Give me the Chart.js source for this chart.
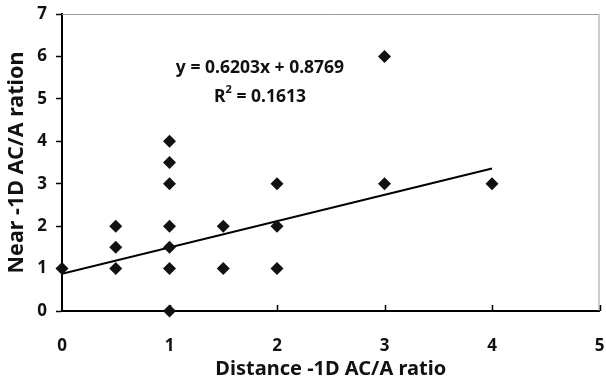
<!DOCTYPE html>
<html>
<head>
<meta charset="utf-8">
<script src="https://cdn.jsdelivr.net/npm/chart.js@4.4.0/dist/chart.umd.min.js"></script>
<style>
  html, body { margin: 0; padding: 0; background: #fff; }
  #wrap { width: 606px; height: 383px; }
</style>
</head>
<body>
<div id="wrap"><canvas id="scatter"></canvas></div>
<script>
// ---- data ----
var distX = [0, 0.5, 0.5, 0.5, 1, 1, 1, 1, 1, 1, 1, 1.5, 1.5, 2, 2, 2, 3, 3, 4];
var nearY = [1, 1, 1.5, 2, 0, 1, 1.5, 2, 3, 3.5, 4, 1, 2, 1, 2, 3, 3, 6, 3];
var trendX = [0, 4];
var trendY = [0.8769, 3.3581];
var eqText = "y = 0.6203x + 0.8769";
var r2Text = " = 0.1613";
var xTicks = [0, 1, 2, 3, 4, 5];
var yTicks = [0, 1, 2, 3, 4, 5, 6, 7];

var fontFam = "'Noto Sans', 'DejaVu Sans', sans-serif";

function toPoints(xs, ys){
    let pts = [];
    for(let i = 0; i < xs.length; i++)
        pts.push({x: xs[i], y: ys[i]});
    return pts;
}

// frame + inward x ticks + equation text
var extras = {
    id: 'extras',
    beforeDatasetsDraw: function(chart){
        let ctx = chart.ctx;
        let a = chart.chartArea;
        ctx.save();
        ctx.strokeStyle = '#9a9a9a';
        ctx.lineWidth = 1;
        ctx.beginPath();
        ctx.moveTo(a.left, a.top + 0.5);
        ctx.lineTo(a.right - 0.5, a.top + 0.5);
        ctx.lineTo(a.right - 0.5, a.bottom);
        ctx.stroke();

        let xs = chart.scales.x;
        ctx.strokeStyle = '#000';
        ctx.lineWidth = 1.5;
        xTicks.forEach(function(v){
            if(v === 0) return;
            let px = Math.round(xs.getPixelForValue(v)) + 0.5;
            ctx.beginPath();
            ctx.moveTo(px, a.bottom);
            ctx.lineTo(px, a.bottom - 6);
            ctx.stroke();
        });
        ctx.restore();
    },
    afterDraw: function(chart){
        let ctx = chart.ctx;
        let a = chart.chartArea;
        let cx = a.left + 198;
        ctx.save();
        ctx.fillStyle = '#111';
        ctx.font = "bold 17.5px " + fontFam;
        ctx.textBaseline = 'middle';
        ctx.textAlign = 'center';
        ctx.fillText(eqText, cx, a.top + 54);

        let wR = ctx.measureText("R").width;
        let wRest = ctx.measureText(r2Text).width;
        ctx.font = "bold 11px " + fontFam;
        let w2 = ctx.measureText("2").width;
        let total = wR + w2 + wRest;
        let x0 = cx - total / 2;
        let y0 = a.top + 83;
        ctx.textAlign = 'left';
        ctx.font = "bold 17.5px " + fontFam;
        ctx.fillText("R", x0, y0);
        ctx.font = "bold 11px " + fontFam;
        ctx.fillText("2", x0 + wR, y0 - 7);
        ctx.font = "bold 17.5px " + fontFam;
        ctx.fillText(r2Text, x0 + wR + w2, y0);
        ctx.restore();
    }
};

var chart = new Chart(document.getElementById('scatter'),
{
    type: 'scatter',
    data : {
        datasets : [
            {
                label: "Near vs distance",
                data : toPoints(distX, nearY),
                pointStyle: 'rectRot',
                pointRadius: 6.5,
                pointHoverRadius: 6.5,
                backgroundColor: '#111',
                borderColor: '#111',
                borderWidth: 0,
                clip: false
            },
            {
                type: 'line',
                label: "Trend",
                data : toPoints(trendX, trendY),
                borderColor: '#000',
                borderWidth: 2,
                pointRadius: 0,
                fill: false,
                tension: 0
            }
        ]
    },
    plugins: [extras],
    options: {
        responsive: true,
        maintainAspectRatio: false,
        animation: false,
        layout: { padding: { top: 14, right: 3, left: 0, bottom: 0 } },
        plugins: {
            legend: { display: false },
            tooltip: { enabled: false }
        },
        scales: {
            x: {
                type: 'linear',
                min: 0,
                max: 5,
                afterBuildTicks: function(scale){
                    scale.ticks = xTicks.map(function(v){ return {value: v}; });
                },
                afterFit: function(scale){
                    scale.height = 72;
                    scale.paddingLeft = 0;
                    scale.paddingRight = 0;
                },
                grid: { drawOnChartArea: false, drawTicks: false },
                border: { color: '#000', width: 2 },
                ticks: {
                    padding: 25,
                    color: '#111',
                    maxRotation: 0,
                    font: { family: fontFam, size: 17, weight: 'bold' }
                },
                title: {
                    display: true,
                    text: "Distance -1D AC/A ratio",
                    color: '#111',
                    padding: { top: 0, bottom: 2 },
                    font: { family: fontFam, size: 20, weight: 'bold' }
                }
            },
            y: {
                type: 'linear',
                min: 0,
                max: 7,
                afterBuildTicks: function(scale){
                    scale.ticks = yTicks.map(function(v){ return {value: v}; });
                },
                afterFit: function(scale){
                    scale.width = 62;
                    scale.paddingTop = 0;
                    scale.paddingBottom = 0;
                },
                grid: { drawOnChartArea: false, drawTicks: true, tickLength: 6, color: '#000', tickWidth: 1.5 },
                border: { color: '#000', width: 2 },
                ticks: {
                    padding: 9,
                    color: '#111',
                    font: { family: fontFam, size: 17, weight: 'bold' }
                },
                title: {
                    display: true,
                    text: "Near -1D AC/A ration",
                    color: '#111',
                    padding: { top: 4, bottom: 0 },
                    font: { family: fontFam, size: 21.5, weight: 'bold' }
                }
            }
        }
    }
});
</script>
</body>
</html>
